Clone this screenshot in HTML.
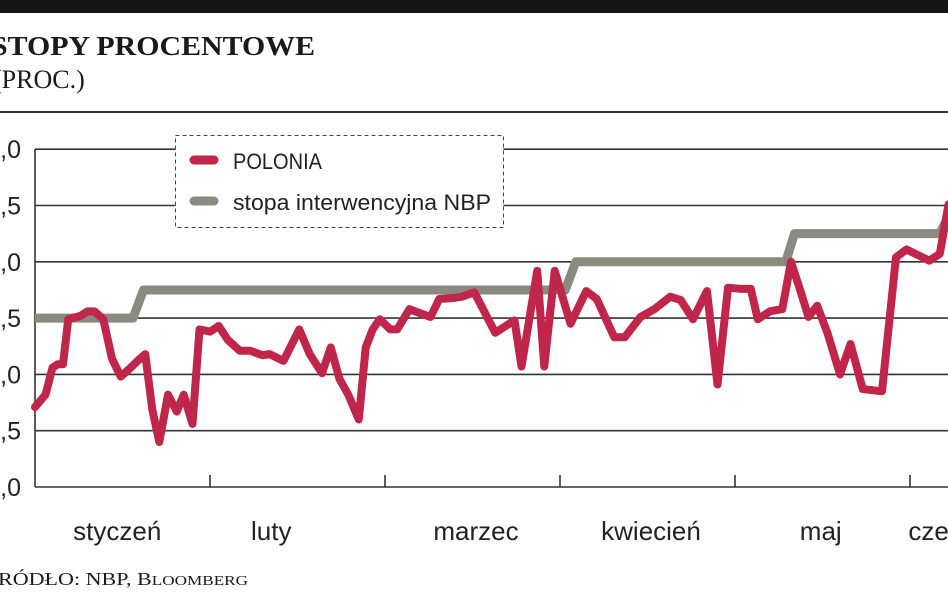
<!DOCTYPE html>
<html><head><meta charset="utf-8"><style>
body{margin:0;background:#fff;width:948px;height:593px;overflow:hidden;}
svg{display:block}
</style></head><body>
<svg id="chart" width="948" height="593">
<rect x="0" y="0" width="948" height="13" fill="#141414"/>
<text x="-9" y="55" font-family="Liberation Serif, serif" font-weight="bold" font-size="27" fill="#1a1a1a" textLength="324" lengthAdjust="spacingAndGlyphs">STOPY PROCENTOWE</text>
<text x="-7" y="88" font-family="Liberation Serif, serif" font-size="26" fill="#1a1a1a">(PROC.)</text>
<line x1="0" y1="112" x2="948" y2="112" stroke="#333" stroke-width="2"/>
<g id="grid"></g>
<g id="series"></g>
<g>
<rect x="175.5" y="135.5" width="328" height="92" fill="#fff" stroke="#444" stroke-dasharray="4,3"/>
<line x1="194" y1="160" x2="214" y2="160" stroke="#c0254a" stroke-width="9" stroke-linecap="round"/>
<text x="233" y="169" font-family="Liberation Sans, sans-serif" font-size="22" fill="#222" textLength="89" lengthAdjust="spacingAndGlyphs">POLONIA</text>
<line x1="194" y1="201" x2="214" y2="201" stroke="#8a8a80" stroke-width="9" stroke-linecap="round"/>
<text x="233" y="210" font-family="Liberation Sans, sans-serif" font-size="22" fill="#222" textLength="258" lengthAdjust="spacingAndGlyphs">stopa interwencyjna NBP</text>
</g>
<text x="-2" y="585" font-family="Liberation Serif, serif" font-size="18" fill="#1a1a1a" textLength="250" lengthAdjust="spacingAndGlyphs">RÓDŁO: NBP, B<tspan font-size="14">LOOMBERG</tspan></text>
</svg>
<script>
const yTicks=[2.0,2.5,3.0,3.5,4.0,4.5,5.0];
const yTickLabels=["2,0","2,5","3,0","3,5","4,0","4,5","5,0"];
const months=["styczeń","luty","marzec","kwiecień","maj","czerwiec"];
const monthLabelAt=[0.47,1.35,2.52,3.52,4.49,5.28];
const poloniaT=[0,.06,.10,.13,.16,.19,.26,.30,.34,.39,.44,.49,.54,.60,.63,.67,.71,.76,.81,.85,.90,.94,1.00,1.05,1.10,1.17,1.23,1.30,1.34,1.42,1.51,1.57,1.64,1.69,1.74,1.79,1.85,1.89,1.93,1.97,2.03,2.07,2.14,2.19,2.26,2.31,2.40,2.44,2.51,2.63,2.74,2.78,2.87,2.91,2.97,3.06,3.15,3.21,3.31,3.37,3.46,3.54,3.63,3.69,3.76,3.84,3.90,3.96,4.03,4.09,4.13,4.20,4.27,4.32,4.37,4.42,4.47,4.53,4.60,4.66,4.73,4.84,4.92,4.98,5.11,5.17,5.22];
const poloniaV=[2.71,2.82,3.06,3.09,3.09,3.49,3.52,3.56,3.56,3.49,3.14,2.98,3.05,3.14,3.18,2.69,2.40,2.82,2.67,2.82,2.56,3.40,3.38,3.43,3.31,3.21,3.21,3.17,3.18,3.12,3.40,3.18,3.01,3.24,2.96,2.82,2.60,3.24,3.40,3.49,3.40,3.40,3.58,3.55,3.51,3.67,3.68,3.69,3.73,3.37,3.48,3.07,3.92,3.07,3.92,3.45,3.74,3.67,3.33,3.33,3.51,3.58,3.69,3.66,3.49,3.74,2.91,3.77,3.76,3.76,3.49,3.56,3.58,4.00,3.76,3.51,3.61,3.36,3.00,3.27,2.87,2.85,4.04,4.11,4.01,4.07,4.51];
const nbpT=[0,.56,.62,3.03,3.09,4.29,4.34,5.17,5.25];
const nbpV=[3.5,3.5,3.75,3.75,4.0,4.0,4.25,4.25,4.5];
const NS="http://www.w3.org/2000/svg";
const x=t=>35+t*175;
const y=v=>487-(v-2)*112.6;
const grid=document.getElementById('grid'),series=document.getElementById('series');
function mk(tag,attrs,parent){const e=document.createElementNS(NS,tag);for(const k in attrs)e.setAttribute(k,attrs[k]);parent.appendChild(e);return e;}
yTicks.forEach((v,i)=>{
 const l=mk('line',{x1:35,x2:948,y1:y(v),y2:y(v),stroke:'#333','stroke-width':1.6},grid);
 
 
 const t=mk('text',{x:21,y:y(v)+9,'text-anchor':'end','font-family':'Liberation Sans, sans-serif','font-size':25,fill:'#222'},grid);
 t.textContent=yTickLabels[i];
 
 
});
const ax=mk('line',{x1:35,x2:35,y1:y(5),y2:y(2),stroke:'#333','stroke-width':1.6},grid);


months.forEach((m,i)=>{
 if(i>0){const tk=mk('line',{x1:x(i),x2:x(i),y1:y(2)-12,y2:y(2),stroke:'#333','stroke-width':1.6},grid);
 
 }
 const t=mk('text',{x:x(monthLabelAt[i]),y:540,'text-anchor':'middle','font-family':'Liberation Sans, sans-serif','font-size':26,fill:'#222'},grid);
 t.textContent=m;
 
 
});
const np=nbpT.map((t,i)=>x(t)+','+y(nbpV[i])).join(' ');
const g=mk('polyline',{points:np,fill:'none',stroke:'#8a8a80','stroke-width':9,'stroke-linejoin':'round'},series);


const pp=poloniaT.map((t,i)=>x(t)+','+y(poloniaV[i])).join(' ');
const r=mk('polyline',{points:pp,fill:'none',stroke:'#c0254a','stroke-width':8,'stroke-linejoin':'round','stroke-linecap':'round'},series);


</script>
</body></html>
